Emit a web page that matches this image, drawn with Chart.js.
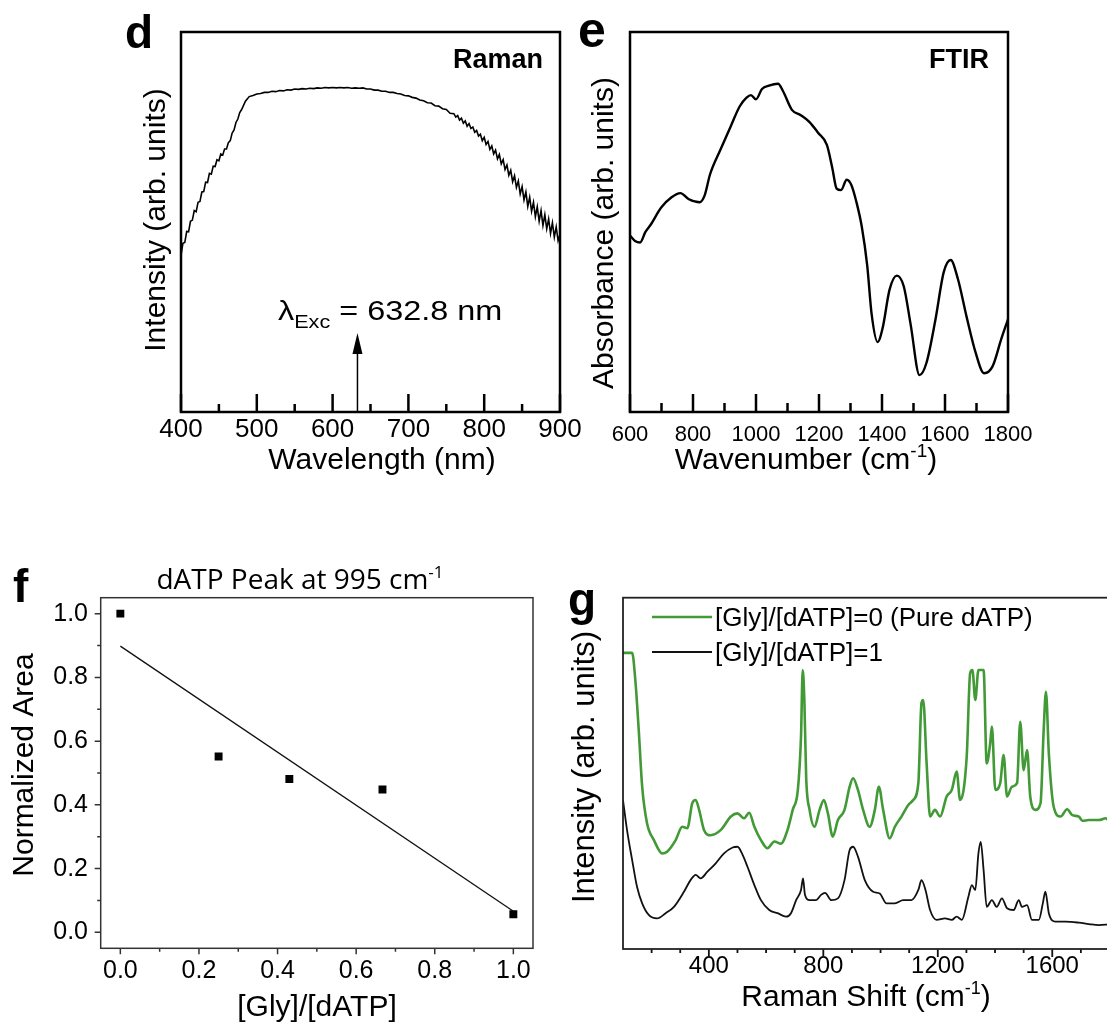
<!DOCTYPE html>
<html><head><meta charset="utf-8">
<script src="https://cdn.jsdelivr.net/npm/chart.js@4.4.1/dist/chart.umd.min.js"></script>
<style>
html,body{margin:0;padding:0;background:#fff;width:1107px;height:1023px;overflow:hidden;position:relative}
canvas{position:absolute}
</style></head><body>
<canvas id="cd" width="490" height="480" style="left:100px;top:0px;width:490px;height:480px"></canvas>
<canvas id="ce" width="480" height="480" style="left:570px;top:0px;width:480px;height:480px"></canvas>
<canvas id="cf" width="560" height="478" style="left:0px;top:545px;width:560px;height:478px"></canvas>
<canvas id="cg" width="580" height="478" style="left:545px;top:545px;width:580px;height:478px"></canvas>
<script>
// ---------- Panel d: Raman background ----------
const ramanWavelength = [400,402.5,405,407.5,410,412.5,415,417.5,420,422.5,425,427.5,430,432.5,435,437.5,440,442.5,445,447.5,
  450,452.5,455,457.5,460,462.5,465,467.5,470,472.5,475,477.5,480,
  485,490,495,500,505,510,515,520,525,530,535,540,545,550,555,560,565,570,575,580,585,590,595,
  600,605,610,615,620,625,630,635,640,645,650,655,660,665,670,675,680,685,690,695,
  700,705,710,715,720,725,730,735,740,745,750,755,
  760,762.5,765,767.5,770,772.5,775,777.5,780,782.5,785,787.5,790,792.5,795,797.5,
  800,802.5,805,807.5,810,812.5,815,817.5,820,822.5,825,827.5,830,832.5,835,837.5,
  840,842.5,845,847.5,850,852.5,855,857.5,860,862.5,865,867.5,870,872.5,875,877.5,
  880,882.5,885,887.5,890,892.5,895,897.5,900];
const ramanIntensity = [41.2,44.4,44.6,47.5,47.4,50.2,50.5,53.0,52.7,55.2,55.4,57.9,58.0,60.5,60.4,62.8,62.6,64.7,64.6,66.4,
  66.1,67.9,67.6,69.2,69.2,70.9,71.4,73.4,74.2,76.2,77.1,78.8,79.6,
  81.8,83.0,83.3,83.7,83.8,84.1,84.1,84.4,84.3,84.6,84.5,84.8,84.7,85.0,84.9,85.1,85.0,85.2,85.1,85.3,85.2,85.4,85.3,
  85.4,85.3,85.4,85.3,85.4,85.2,85.3,85.2,85.3,85.0,85.0,84.7,84.7,84.4,84.4,84.1,84.1,83.8,83.7,83.3,
  83.2,82.8,82.6,82.1,81.9,81.4,81.3,80.6,80.5,79.8,79.6,78.6,
  78.5,77.6,78.0,76.8,77.3,76.0,76.6,75.2,75.9,74.6,75.0,73.6,74.1,72.6,73.1,71.4,
  72.3,70.4,71.2,69.1,70.0,67.9,68.9,66.6,67.8,65.3,66.4,63.8,65.0,62.3,63.6,60.6,
  62.2,59.1,60.8,57.4,59.3,55.8,57.9,54.1,56.5,52.8,55.2,51.4,54.0,50.2,53.0,49.1,
  51.9,48.2,50.8,47.0,49.8,46.0,48.7,45.1,46.8];
const excitationWavelength = 632.8;
const dTickLabels = [400,500,600,700,800,900];
const dMinorTicks = [450,550,650,750,850];

// ---------- Panel e: FTIR ----------
const ftirWavenumber = [600,616,632,649,665,699,732,760,787,821,837,854,887,921,948,970,984,1000,1019,1041,
  1070,1086,1114,1142,1170,1197,1225,1242,1256,1270,1288,1303,1319,1336,1353,1367,1386,1402,1424,1447,
  1469,1491,1519,1541,1569,1596,1618,1641,1669,1697,1724,1751,1779,1800];
const ftirAbsorbance = [46.4,45.0,44.6,47.4,49.2,53.8,56.5,57.6,56.0,55.2,57.0,62.5,69.0,75.4,80.4,82.7,83.4,82.3,85.0,85.9,
  86.4,84.4,79.5,78.1,76.3,73.5,70.3,64.3,58.8,58.4,61.1,59.7,55.2,48.7,38.6,25.8,18.4,22.1,32.2,35.9,
  33.1,23.0,9.7,12.9,24.0,36.8,40.0,35.0,24.9,15.7,10.2,12.0,19.3,24.4];
const eTickLabels = [600,800,1000,1200,1400,1600,1800];
const eMinorTicks = [700,900,1100,1300,1500,1700];

// ---------- Panel f: normalized area ----------
const glyRatio = [0, 0.25, 0.43, 0.667, 1.0];
const normalizedArea = [1.0, 0.552, 0.481, 0.448, 0.057];
const fitRatio = [0, 1];
const fitArea = [0.898, 0.066];
const fXTickLabels = [0, 0.2, 0.4, 0.6, 0.8, 1.0];
const fXMinorTicks = [0.1, 0.3, 0.5, 0.7, 0.9];
const fYTickLabels = [0, 0.2, 0.4, 0.6, 0.8, 1.0];
const fYMinorTicks = [0.1, 0.3, 0.5, 0.7, 0.9];

// ---------- Panel g: Raman spectra ----------
const pureShift = [100,132,143,155,167,184,208,237,254,284,307,325,342,354,366,383,406,442,477,500,
  523,541,559,582,605,629,652,675,693,711,722,728,734,740,752,769,787,802,816,833,
  851,874,892,904,921,939,962,980,994,1009,1032,1050,1073,1097,1114,1132,1143,1149,1161,1173,
  1190,1208,1231,1249,1266,1278,1301,1313,1321,1331,1342,1360,1371,1383,1389,1401,1418,1430,1442,1459,
  1477,1488,1500,1512,1523,1541,1559,1570,1578,1588,1605,1629,1652,1670,1693,1705,1728,1763,1787,1800];
const pureIntensity = [84.3,84.3,76.6,62.3,46.2,35.8,31.0,27.2,27.7,31.0,34.8,34.4,41.5,42.4,39.6,33.9,32.4,33.9,37.7,38.6,
  37.2,38.8,34.8,31.0,28.7,30.6,30.0,33.9,39.6,45.3,60.4,79.4,70.0,49.0,39.6,34.8,39.6,42.4,38.6,32.0,
  36.7,39.6,46.2,48.6,45.3,39.6,34.8,39.6,46.2,39.6,31.5,34.8,37.7,41.0,42.4,47.2,70.0,70.9,52.8,37.7,
  39.6,37.7,43.4,45.3,50.5,42.4,54.7,78.5,79.4,70.9,79.4,79.4,52.8,58.5,63.3,45.3,47.2,55.2,43.4,46.2,
  47.2,64.7,50.9,56.6,43.4,39.6,41.5,62.3,73.2,55.7,40.5,37.7,39.8,38.1,37.7,36.5,36.7,36.7,37.2,36.2];
const glyShift = [100,114,132,149,167,190,219,249,278,313,336,354,371,395,424,453,483,500,518,535,
  559,582,611,640,670,687,705,722,729,736,752,775,792,806,828,851,874,892,904,921,
  945,974,997,1021,1050,1079,1108,1132,1143,1157,1173,1196,1225,1249,1266,1284,1307,1319,1331,1342,
  1350,1360,1371,1389,1406,1424,1442,1465,1483,1494,1512,1529,1553,1567,1576,1588,1611,1646,1693,1728,1763,1800];
const glyIntensity = [42.4,33.9,25.3,17.7,13.0,9.7,8.7,10.2,12.0,16.3,19.6,21.1,20.1,22.0,24.4,27.2,28.9,29.1,26.8,23.4,
  18.2,13.9,11.1,10.2,9.2,10.2,13.9,16.8,20.1,15.4,13.9,13.9,15.4,16.0,13.9,14.4,19.6,28.2,29.1,26.3,
  19.6,16.3,15.8,13.0,13.0,13.9,13.9,16.8,19.6,16.8,11.1,8.3,8.7,8.3,9.2,8.3,14.9,18.2,16.8,27.2,
  30.5,22.5,12.0,13.9,12.0,14.4,11.6,11.1,13.9,12.0,12.5,8.3,8.3,13.0,16.3,10.2,7.8,7.8,7.5,7.1,6.8,7.0];
const seriesLabels = ['[Gly]/[dATP]=0 (Pure dATP)', '[Gly]/[dATP]=1'];
const gTickLabels = [400,800,1200,1600];
const gMinorTicks = [200,300,500,600,700,900,1000,1100,1300,1400,1500,1700,1800];

// ---------- helpers ----------
const SANS = '"Liberation Sans", Arial, sans-serif';
const OPEN = '"Open Sans", sans-serif';
function fnt(size, bold, fam) { return (bold ? 'bold ' : '') + size + 'px ' + (fam || SANS); }
function pts(xs, ys) { return xs.map((x, i) => ({x: x, y: ys[i]})); }
function drawRich(ctx, parts, x, y, align, rot, sx) {
  ctx.save();
  ctx.translate(x, y);
  if (rot) ctx.rotate(rot);
  if (sx) ctx.scale(sx, 1);
  ctx.textBaseline = 'alphabetic';
  ctx.textAlign = 'left';
  let w = 0;
  const ws = parts.map(p => { ctx.font = fnt(p.size, p.bold, p.fam); const m = ctx.measureText(p.t).width; w += m; return m; });
  let cx = align === 'center' ? -w / 2 : (align === 'right' ? -w : 0);
  parts.forEach((p, i) => {
    ctx.font = fnt(p.size, p.bold, p.fam);
    ctx.fillStyle = p.color || '#000';
    ctx.fillText(p.t, cx, p.dy || 0);
    cx += ws[i];
  });
  ctx.restore();
}
function decor(cfg) {
  return {
    id: 'decor_' + cfg.name,
    afterDraw(chart) {
      const {ctx, chartArea: a, scales} = chart;
      ctx.save();
      (cfg.ticks || []).forEach(t => {
        ctx.strokeStyle = cfg.tickColor; ctx.lineWidth = t.width; ctx.lineCap = 'butt';
        ctx.beginPath();
        t.values.forEach(v => {
          if (t.axis === 'x') { const px = scales.x.getPixelForValue(v); ctx.moveTo(px, a.bottom); ctx.lineTo(px, a.bottom + t.len); }
          else { const py = scales.y.getPixelForValue(v); ctx.moveTo(a.left, py); ctx.lineTo(a.left - t.len, py); }
        });
        ctx.stroke();
      });
      ctx.strokeStyle = cfg.frameColor; ctx.lineWidth = cfg.frameWidth;
      ctx.strokeRect(a.left, a.top, a.right - a.left, a.bottom - a.top);
      (cfg.texts || []).forEach(tx => drawRich(ctx, tx.parts, tx.x - cfg.ox, tx.y - cfg.oy, tx.align, tx.rot, tx.sx));
      if (cfg.extra) cfg.extra(chart, cfg);
      ctx.restore();
    }
  };
}
function makeOptions(p) {
  return {
    responsive: false, animation: false, devicePixelRatio: 1, events: [],
    layout: {padding: p.padding},
    plugins: {legend: {display: false}, tooltip: {enabled: false}, title: {display: false}},
    scales: {
      x: {
        type: 'linear', min: p.xmin, max: p.xmax,
        afterBuildTicks: s => { s.ticks = p.xLabels.map(v => ({value: v})); },
        ticks: {font: {family: SANS, size: p.xFont}, color: '#000', padding: p.xPad, maxRotation: 0, autoSkip: false, callback: p.xFmt},
        grid: {display: false, drawTicks: false}, border: {display: false},
        afterFit: s => { s.height = p.xHeight; s.paddingLeft = 0; s.paddingRight = 0; }
      },
      y: p.y
    }
  };
}

// ---------- Panel d ----------
new Chart(document.getElementById('cd'), {
  type: 'line',
  data: {datasets: [{data: pts(ramanWavelength, ramanIntensity), borderColor: '#000', borderWidth: 1.6, pointRadius: 0, tension: 0}]},
  options: makeOptions({
    padding: {left: 81, top: 32, right: 30, bottom: 0},
    xmin: 400, xmax: 900, xLabels: dTickLabels, xFont: 26, xPad: 2.4, xHeight: 68, xFmt: v => String(v),
    y: {type: 'linear', min: 0, max: 100, display: false}
  }),
  plugins: [decor({
    name: 'd', ox: 100, oy: 0, tickColor: '#000', frameColor: '#000', frameWidth: 2.5,
    ticks: [{axis: 'x', values: dTickLabels, len: -18, width: 2.5}, {axis: 'x', values: dMinorTicks, len: -8, width: 2.5}],
    texts: [
      {parts: [{t: 'd', size: 46, bold: true}], x: 125, y: 48, align: 'left'},
      {parts: [{t: 'Raman', size: 27, bold: true}], x: 543, y: 68, align: 'right'},
      {parts: [{t: 'Intensity (arb. units)', size: 30}], x: 165, y: 220, align: 'center', rot: -Math.PI / 2},
      {parts: [{t: 'Wavelength (nm)', size: 30}], x: 382, y: 469, align: 'center'},
      {parts: [{t: 'λ', size: 27}, {t: 'Exc', size: 18, dy: 8}, {t: ' = 632.8 nm', size: 27}], x: 278, y: 320, align: 'left', sx: 1.2}
    ],
    extra: (chart) => {
      const {ctx, chartArea: a, scales} = chart;
      const px = scales.x.getPixelForValue(excitationWavelength);
      ctx.strokeStyle = '#000'; ctx.lineWidth = 1.5;
      ctx.beginPath(); ctx.moveTo(px, a.bottom); ctx.lineTo(px, a.bottom - 62); ctx.stroke();
      ctx.fillStyle = '#000';
      ctx.beginPath(); ctx.moveTo(px, a.bottom - 79); ctx.lineTo(px - 5, a.bottom - 58); ctx.lineTo(px + 5, a.bottom - 58); ctx.closePath(); ctx.fill();
    }
  })]
});

// ---------- Panel e ----------
new Chart(document.getElementById('ce'), {
  type: 'line',
  data: {datasets: [{data: pts(ftirWavenumber, ftirAbsorbance), borderColor: '#000', borderWidth: 2.4, pointRadius: 0, tension: 0.4, cubicInterpolationMode: 'monotone'}]},
  options: makeOptions({
    padding: {left: 60, top: 32, right: 42, bottom: 0},
    xmin: 600, xmax: 1800, xLabels: eTickLabels, xFont: 22, xPad: 9.3, xHeight: 68, xFmt: v => String(v),
    y: {type: 'linear', min: 0, max: 100, display: false}
  }),
  plugins: [decor({
    name: 'e', ox: 570, oy: 0, tickColor: '#000', frameColor: '#000', frameWidth: 2.5,
    ticks: [{axis: 'x', values: eTickLabels, len: -18, width: 2.5}, {axis: 'x', values: eMinorTicks, len: -9, width: 2.5}],
    texts: [
      {parts: [{t: 'e', size: 50, bold: true}], x: 578, y: 47, align: 'left'},
      {parts: [{t: 'FTIR', size: 27, bold: true}], x: 989, y: 68, align: 'right'},
      {parts: [{t: 'Absorbance (arb. units)', size: 30}], x: 613, y: 233, align: 'center', rot: -Math.PI / 2},
      {parts: [{t: 'Wavenumber (cm', size: 30}, {t: '-1', size: 19, dy: -12}, {t: ')', size: 30}], x: 806, y: 469, align: 'center'}
    ]
  })]
});

// ---------- Panel f ----------
new Chart(document.getElementById('cf'), {
  type: 'scatter',
  data: {datasets: [
    {type: 'scatter', data: pts(glyRatio, normalizedArea), pointStyle: 'rect', pointRadius: 5.6, backgroundColor: '#000', borderWidth: 0},
    {type: 'line', data: pts(fitRatio, fitArea), borderColor: '#111', borderWidth: 1.3, pointRadius: 0, tension: 0}
  ]},
  options: makeOptions({
    padding: {left: 0, top: 52.7, right: 27, bottom: 0},
    xmin: -0.05, xmax: 1.05, xLabels: fXTickLabels, xFont: 25, xPad: 8.2, xHeight: 74.7, xFmt: v => v.toFixed(1),
    y: {
      type: 'linear', min: -0.05, max: 1.05,
      afterBuildTicks: s => { s.ticks = fYTickLabels.map(v => ({value: v})); },
      ticks: {font: {family: SANS, size: 25}, color: '#000', padding: 12.7, callback: v => v.toFixed(1)},
      grid: {display: false, drawTicks: false}, border: {display: false},
      afterFit: s => { s.width = 100.7; s.paddingTop = 0; s.paddingBottom = 0; }
    }
  }),
  plugins: [decor({
    name: 'f', ox: 0, oy: 545, tickColor: '#333', frameColor: '#333', frameWidth: 1.5,
    ticks: [
      {axis: 'x', values: fXTickLabels, len: 6, width: 1.5}, {axis: 'x', values: fXMinorTicks, len: 3.5, width: 1.5},
      {axis: 'y', values: fYTickLabels, len: 6, width: 1.5}, {axis: 'y', values: fYMinorTicks, len: 3.5, width: 1.5}
    ],
    texts: [
      {parts: [{t: 'f', size: 46, bold: true}], x: 13, y: 602, align: 'left'},
      {parts: [{t: 'dATP Peak at 995 cm', size: 28, fam: OPEN}, {t: '-1', size: 17, dy: -11, fam: OPEN}], x: 300, y: 589, align: 'center'},
      {parts: [{t: 'Normalized Area', size: 30}], x: 33, y: 765, align: 'center', rot: -Math.PI / 2},
      {parts: [{t: '[Gly]/[dATP]', size: 30}], x: 317, y: 1016, align: 'center'}
    ]
  })]
});

// ---------- Panel g ----------
new Chart(document.getElementById('cg'), {
  type: 'line',
  data: {datasets: [
    {label: seriesLabels[0], data: pts(pureShift, pureIntensity), borderColor: '#419a35', borderWidth: 2.6, pointRadius: 0, cubicInterpolationMode: 'monotone'},
    {label: seriesLabels[1], data: pts(glyShift, glyIntensity), borderColor: '#111', borderWidth: 1.8, pointRadius: 0, cubicInterpolationMode: 'monotone'}
  ]},
  options: makeOptions({
    padding: {left: 78, top: 52.7, right: 15.5, bottom: 0},
    xmin: 100, xmax: 1800, xLabels: gTickLabels, xFont: 24, xPad: 3.1, xHeight: 74, xFmt: v => String(v),
    y: {type: 'linear', min: 0, max: 100, display: false}
  }),
  plugins: [decor({
    name: 'g', ox: 545, oy: 545, tickColor: '#111', frameColor: '#222', frameWidth: 1.8,
    ticks: [{axis: 'x', values: gTickLabels, len: 8, width: 1.8}, {axis: 'x', values: gMinorTicks, len: 4, width: 1.8}],
    texts: [
      {parts: [{t: 'g', size: 46, bold: true}], x: 568, y: 615, align: 'left'},
      {parts: [{t: 'Intensity (arb. units)', size: 31}], x: 594, y: 767, align: 'center', rot: -Math.PI / 2},
      {parts: [{t: 'Raman Shift (cm', size: 30}, {t: '-1', size: 18, dy: -12}, {t: ')', size: 30}], x: 866, y: 1006, align: 'center'}
    ],
    extra: (chart, cfg) => {
      const ctx = chart.ctx;
      const rows = [617, 652];
      chart.data.datasets.forEach((ds, i) => {
        const y = rows[i] - cfg.oy;
        ctx.strokeStyle = ds.borderColor; ctx.lineWidth = ds.borderWidth;
        ctx.beginPath(); ctx.moveTo(652 - cfg.ox, y); ctx.lineTo(712 - cfg.ox, y); ctx.stroke();
        ctx.font = fnt(26); ctx.fillStyle = '#000'; ctx.textAlign = 'left'; ctx.textBaseline = 'alphabetic';
        ctx.fillText(ds.label, 715 - cfg.ox, y + 9);
      });
    }
  })]
});
</script>
</body></html>
